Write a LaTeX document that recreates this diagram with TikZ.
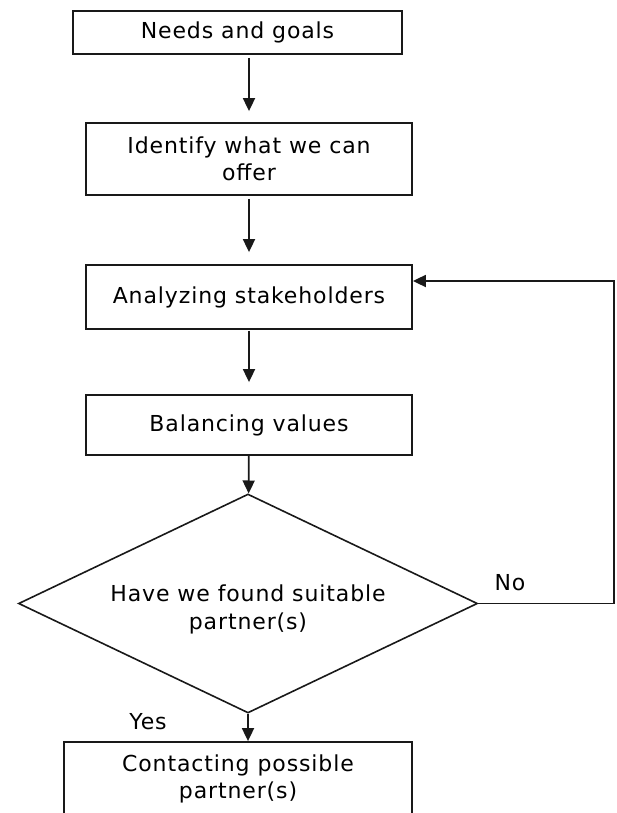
\documentclass[tikz,border=0pt]{standalone}
\usepackage{fontspec}
\setmainfont{DejaVu Sans}[LetterSpace=4]
\usepackage{tikz}
\usetikzlibrary{positioning, arrows.meta, shapes.geometric}
\definecolor{LineColor}{RGB}{25,25,25}
\tikzstyle{stepbox} = [rectangle, draw=LineColor, line width=1.8pt, fill=white, align=center, inner sep=0pt, font=\fontsize{22}{27}\selectfont]
\tikzstyle{decision} = [diamond, aspect=2.6, draw=LineColor, line width=1.6pt, align=center, inner sep=0pt, minimum width=459pt, minimum height=219pt, font=\fontsize{22}{28}\selectfont]
\tikzstyle{arrow} = [line width=1.8pt, LineColor, -{Triangle[length=13pt, width=12pt]}]
\tikzstyle{answer} = [font=\fontsize{22}{27}\selectfont]

\begin{document}
\begin{tikzpicture}[x=1pt, y=-1pt]
            \useasboundingbox (0,0) rectangle (616,813);
            \clip (0,0) rectangle (616,813);

            % Steps
            \node[stepbox, minimum width=329pt, minimum height=43pt] (needs) at (237.5,32.5) {Needs and goals};
            \node[stepbox, minimum width=326pt, minimum height=72pt] (offer) at (249,159) {Identify what we can\\offer};
            \node[stepbox, minimum width=326pt, minimum height=64pt] (stake) at (249,297) {Analyzing stakeholders};
            \node[stepbox, minimum width=326pt, minimum height=60pt] (balance) at (249,425) {Balancing values};
            \node[decision] (found) at (248,603.5) {\mbox{}\\[0pt]Have we found suitable\\partner(s)};
            \node[stepbox, minimum width=348pt, minimum height=74pt] (contact) at (238,779) {Contacting possible\\partner(s)};

            % Flow
            \draw[arrow, shorten <=3pt, shorten >=11pt] (needs.south -| offer.north) -- (offer.north);
            \draw[arrow, shorten <=3pt, shorten >=12pt] (offer) -- (stake);
            \draw[arrow, shorten <=1pt, shorten >=12pt] (stake) -- (balance);
            \draw[arrow] (balance) -- (found);
            \draw[arrow] (found.south) -- (found.south |- contact.north);

            % Back to the stakeholders
            \coordinate (back) at (614,281);
            \draw[arrow] (found.east) -| (back) -- ([yshift=16pt]stake.east);
            \node[answer] (no) at (510,583) {No};
            \node[answer] (yes) at (148,722) {Yes};
        \end{tikzpicture}
\end{document}
